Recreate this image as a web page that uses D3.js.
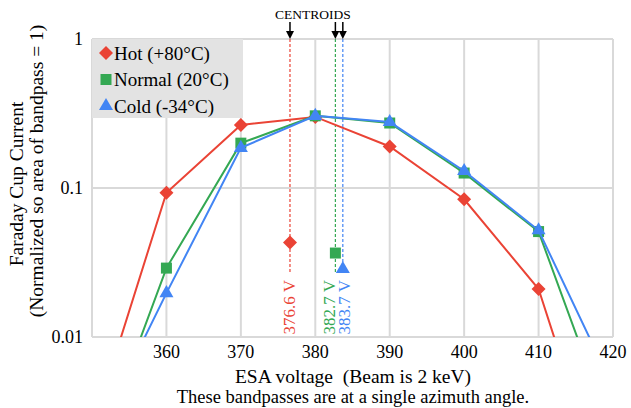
<!DOCTYPE html>
<html>
<head>
<meta charset="utf-8">
<script src="https://cdn.jsdelivr.net/npm/d3@7"></script>
<style>
  body { margin: 0; background: #fff; }
  svg, svg text { font-family: "Liberation Serif", "Times New Roman", "DejaVu Serif", serif; }
</style>
</head>
<body>
<svg id="chart" width="631" height="408" font-family="Liberation Serif, Times New Roman, DejaVu Serif, serif"></svg>
<script>
// ESA voltage steps (350 & 420 are off-scale tails, only the lines reach them)
let voltages = [350, 360, 370, 380, 390, 400, 410, 420];
let hotVals = [0.0024, 0.093, 0.265, 0.30, 0.19, 0.084, 0.021, 0.0006];
let normalVals = [0.0013, 0.029, 0.20, 0.305, 0.273, 0.126, 0.051, 0.0022];
let coldVals = [0.0019, 0.0197, 0.186, 0.305, 0.277, 0.13, 0.052, 0.0046];

let seriesNames = ["Hot (+80°C)", "Normal (20°C)", "Cold (-34°C)"];
let seriesColors = ["#ea4335", "#34a853", "#4285f4"];
let centroids = [376.6, 382.7, 383.7];
let centroidMarks = [0.043, 0.0366, 0.0286];
let centroidLabels = ["376.6 V", "382.7 V", "383.7 V"];

let xTicks = [360, 370, 380, 390, 400, 410, 420];
let yTicks = [1, 0.1, 0.01];
let yTickLabels = ["1", "0.1", "0.01"];

let margin = {top: 39, right: 18, bottom: 71, left: 92};
let W = 631, H = 408;
let serif = "Liberation Serif, Times New Roman, DejaVu Serif, serif";

let svg = d3.select("#chart");
let x = d3.scaleLinear([350, 420], [margin.left, W - margin.right]);
let y = d3.scaleLog([0.01, 1], [H - margin.bottom, margin.top]);

// grid
let grid = svg.append("g").attr("stroke", "#d9d9d9").attr("stroke-width", 2);
grid.selectAll("line.v")
  .data([350].concat(xTicks))
  .join("line")
    .attr("x1", d => x(d)).attr("x2", d => x(d))
    .attr("y1", y(1)).attr("y2", y(0.01));
grid.selectAll("line.h")
  .data(yTicks)
  .join("line")
    .attr("x1", x(350)).attr("x2", x(420))
    .attr("y1", d => y(d)).attr("y2", d => y(d));

// legend box
svg.append("rect")
  .attr("x", x(350)).attr("y", y(1))
  .attr("width", 151).attr("height", 79)
  .attr("fill", "#e3e3e3");

// tick labels
svg.append("g")
  .attr("font-size", 18).attr("font-family", serif)
  .attr("text-anchor", "middle")
  .selectAll("text")
  .data(xTicks)
  .join("text")
    .attr("x", d => x(d))
    .attr("y", H - margin.bottom + 21)
    .text(d => d);
svg.append("g")
  .attr("font-size", 18).attr("font-family", serif)
  .attr("text-anchor", "end")
  .selectAll("text")
  .data(yTicks)
  .join("text")
    .attr("x", x(350) - 9)
    .attr("y", d => y(d))
    .attr("dy", "0.33em")
    .text((d, i) => yTickLabels[i]);

// axis titles
svg.append("text")
  .attr("x", 353).attr("y", 383)
  .attr("text-anchor", "middle").attr("font-size", 19.5).attr("font-family", serif)
  .style("white-space", "pre")
  .text("ESA voltage  (Beam is 2 keV)");
svg.append("text")
  .attr("x", 353).attr("y", 403)
  .attr("text-anchor", "middle").attr("font-size", 18.5).attr("font-family", serif)
  .text("These bandpasses are at a single azimuth angle.");
let yt = svg.append("g")
  .attr("transform", "translate(0,177) rotate(-90)")
  .attr("text-anchor", "middle").attr("font-size", 19.5).attr("font-family", serif);
yt.append("text").attr("x", -7).attr("y", 23).text("Faraday Cup Current");
yt.append("text").attr("x", 6).attr("y", 43).text("(Normalized so area of bandpass = 1)");

// clip for series lines
svg.append("clipPath").attr("id", "plotclip")
  .append("rect")
    .attr("x", x(350)).attr("y", y(1))
    .attr("width", x(420) - x(350)).attr("height", y(0.01) - y(1));

// marker shapes: diamond = rotated square
function marker(i) {
  if (i === 0) return "M0,-7L7,0L0,7L-7,0Z";
  if (i === 1) return d3.symbol(d3.symbolSquare, 121)();
  return d3.symbol(d3.symbolTriangle, 85)();
}

// centroid dashed lines, markers and labels
centroids.forEach((c, i) => {
  svg.append("line")
    .attr("x1", x(c)).attr("x2", x(c))
    .attr("y1", y(1)).attr("y2", 274)
    .attr("stroke", seriesColors[i])
    .attr("stroke-width", 1.2)
    .attr("stroke-dasharray", "3,2");
});
let labelShift = [0, -6, 1.5];
centroids.forEach((c, i) => {
  svg.append("text")
    .attr("transform", `translate(${x(c) + labelShift[i]},280) rotate(-90)`)
    .attr("text-anchor", "end")
    .attr("dominant-baseline", "central")
    .attr("font-size", 17).attr("font-family", serif)
    .attr("fill", seriesColors[i])
    .text(centroidLabels[i]);
});

// series
let allVals = [hotVals, normalVals, coldVals];
let line = d3.line().x(d => x(d[0])).y(d => y(d[1]));
allVals.forEach((vals, i) => {
  let pts = voltages.map((v, j) => [v, vals[j]]);
  svg.append("path")
    .attr("clip-path", "url(#plotclip)")
    .attr("d", line(pts))
    .attr("fill", "none")
    .attr("stroke", seriesColors[i])
    .attr("stroke-width", 2);
  svg.append("g").selectAll("path")
    .data(pts.filter(d => d[1] >= 0.01))
    .join("path")
      .attr("transform", d => `translate(${x(d[0])},${y(d[1])})`)
      .attr("d", marker(i))
      .attr("fill", seriesColors[i]);
});

// centroid markers on top
centroids.forEach((c, i) => {
  svg.append("path")
    .attr("transform", `translate(${x(c)},${y(centroidMarks[i])})`)
    .attr("d", marker(i))
    .attr("fill", seriesColors[i]);
});

// legend entries
let leg = svg.append("g").attr("font-size", 19).attr("font-family", serif);
seriesNames.forEach((n, i) => {
  let ly = 53 + i * 26.5;
  leg.append("path")
    .attr("transform", `translate(106,${ly})`)
    .attr("d", marker(i))
    .attr("fill", seriesColors[i]);
  leg.append("text")
    .attr("x", 114).attr("y", ly).attr("dy", "0.35em")
    .text(n);
});

// CENTROIDS arrows
svg.append("text")
  .attr("x", 313).attr("y", 19)
  .attr("text-anchor", "middle").attr("font-size", 13.5).attr("font-family", serif)
  .text("CENTROIDS");
centroids.forEach(c => {
  let cx = x(c);
  svg.append("line")
    .attr("x1", cx).attr("x2", cx)
    .attr("y1", 22).attr("y2", 33)
    .attr("stroke", "#000").attr("stroke-width", 1.5);
  svg.append("path")
    .attr("d", `M${cx - 4},${31}L${cx + 4},${31}L${cx},${39}Z`)
    .attr("fill", "#000");
});
</script>
</body>
</html>
